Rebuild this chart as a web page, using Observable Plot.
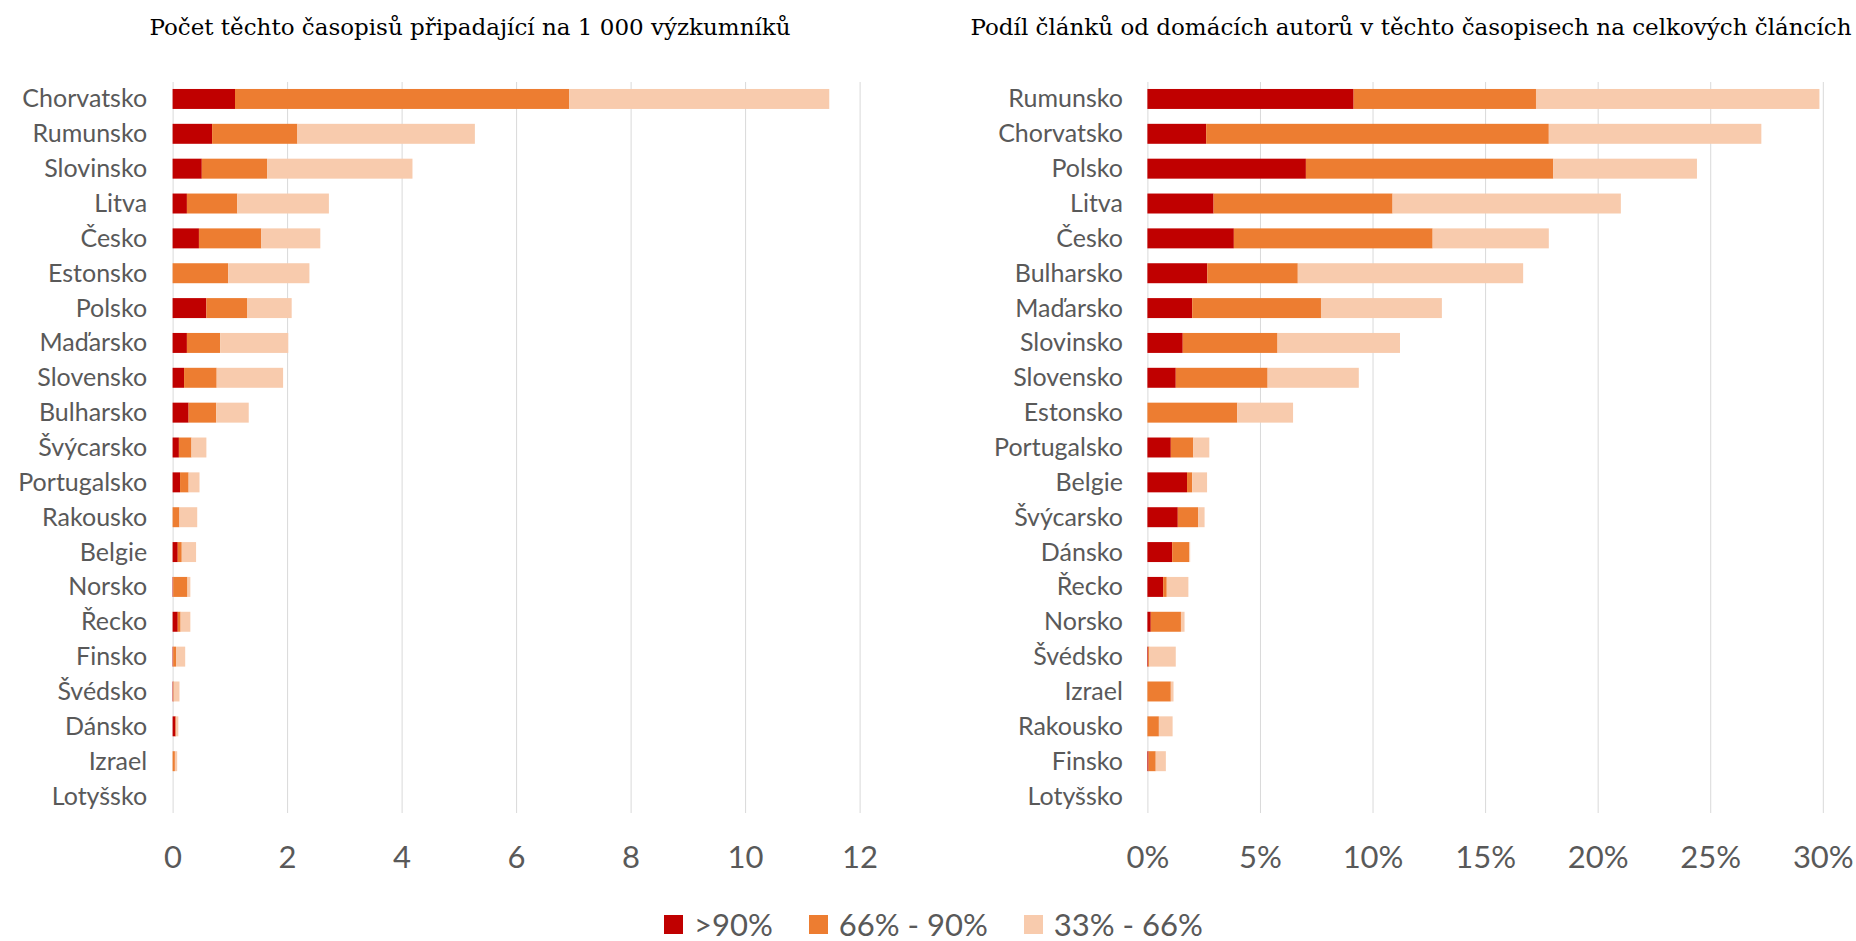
<!DOCTYPE html>
<html>
<head>
<meta charset="utf-8">
<script src="https://cdn.jsdelivr.net/npm/d3@7"></script>
<script src="https://cdn.jsdelivr.net/npm/@observablehq/plot@0.6"></script>
<style>
  html, body { margin: 0; padding: 0; background: #ffffff; }
  body { width: 1856px; height: 941px; position: relative; overflow: hidden; }
  .title { position: absolute; top: 16px; font-family: "DejaVu Serif", serif; font-size: 23px; line-height: 23px; color: #000; white-space: nowrap; transform: translateX(-50%); }
  .panel { position: absolute; top: 60px; }
  #legend { position: absolute; left: 664px; top: 905px; height: 38px; display: flex; align-items: center; font-family: Lato, sans-serif; font-size: 31px; color: #595959; }
  .item { display: flex; align-items: center; margin-right: 36px; }
  .sw { width: 19px; height: 19px; margin-right: 11px; }
</style>
</head>
<body>
<div class="title" id="t1" style="left:470px"></div>
<div class="title" id="t2" style="left:1411px"></div>
<div class="panel" id="p1" style="left:0px"></div>
<div class="panel" id="p2" style="left:928px"></div>
<div id="legend"></div>
<script>
// ---- data ----
const seriesNames = [">90%", "66% - 90%", "33% - 66%"];
const seriesColors = ["#C00000", "#ED7D31", "#F8CBAD"];

const title1 = "Počet těchto časopisů připadající na 1 000 výzkumníků";
const title2 = "Podíl článků od domácích autorů v těchto časopisech na celkových článcích";

// Left panel: journals per 1 000 researchers (segment widths)
const leftCountries = ["Chorvatsko","Rumunsko","Slovinsko","Litva","Česko","Estonsko","Polsko","Maďarsko","Slovensko","Bulharsko","Švýcarsko","Portugalsko","Rakousko","Belgie","Norsko","Řecko","Finsko","Švédsko","Dánsko","Izrael","Lotyšsko"];
const leftOver90 = [1.09,0.69,0.51,0.25,0.46,0,0.59,0.25,0.20,0.28,0.11,0.13,0,0.09,0.01,0.09,0.01,0.01,0.05,0,0];
const left66to90 = [5.84,1.49,1.14,0.88,1.09,0.97,0.71,0.58,0.57,0.48,0.22,0.15,0.12,0.07,0.25,0.05,0.05,0.01,0.01,0.04,0];
const left33to66 = [4.54,3.10,2.54,1.60,1.03,1.42,0.78,1.19,1.16,0.57,0.26,0.19,0.31,0.25,0.05,0.17,0.16,0.10,0.04,0.04,0];
const leftTicks = [0,2,4,6,8,10,12];

// Right panel: share of articles by domestic authors, % (segment widths)
const rightCountries = ["Rumunsko","Chorvatsko","Polsko","Litva","Česko","Bulharsko","Maďarsko","Slovinsko","Slovensko","Estonsko","Portugalsko","Belgie","Švýcarsko","Dánsko","Řecko","Norsko","Švédsko","Izrael","Rakousko","Finsko","Lotyšsko"];
const rightOver90 = [9.16,2.61,7.04,2.94,3.84,2.66,1.99,1.57,1.26,0,1.04,1.76,1.35,1.10,0.70,0.15,0.03,0,0,0.05,0];
const right66to90 = [8.10,15.22,10.99,7.95,8.83,4.02,5.72,4.21,4.08,3.99,1.00,0.23,0.90,0.76,0.16,1.34,0.06,1.04,0.51,0.32,0];
const right33to66 = [12.59,9.44,6.38,10.14,5.16,10.01,5.37,5.44,4.05,2.48,0.71,0.66,0.29,0.04,0.96,0.16,1.17,0.12,0.61,0.45,0];
const rightTicks = [0,5,10,15,20,25,30];

// ---- build ----
function toRows(cats, a, b, c) {
  const rows = [];
  cats.forEach((cat, i) => {
    rows.push({cat, series: seriesNames[0], value: a[i]});
    rows.push({cat, series: seriesNames[1], value: b[i]});
    rows.push({cat, series: seriesNames[2], value: c[i]});
  });
  return rows;
}

function panel(cats, a, b, c, ticks, fmt, mLeft, mRight, labelPad) {
  return Plot.plot({
    width: 928,
    height: 830,
    marginTop: 22,
    marginBottom: 77,
    marginLeft: mLeft,
    marginRight: mRight,
    style: {fontFamily: "Lato, sans-serif", color: "#595959", background: "#ffffff", overflow: "visible"},
    x: {domain: [ticks[0], ticks[ticks.length - 1]], label: null},
    y: {domain: cats, paddingInner: 0.427, paddingOuter: 0.2, round: false, label: null},
    color: {domain: seriesNames, range: seriesColors},
    marks: [
      Plot.gridX(ticks, {stroke: "#d9d9d9", strokeOpacity: 1, strokeWidth: 1}),
      Plot.barX(toRows(cats, a, b, c), {y: "cat", x: "value", fill: "series"}),
      Plot.axisY({tickSize: 0, tickPadding: labelPad, fontSize: 25, label: null}),
      Plot.axisX(ticks, {tickSize: 0, tickPadding: 32, fontSize: 31, tickFormat: fmt, label: null})
    ]
  });
}

document.getElementById("t1").textContent = title1;
document.getElementById("t2").textContent = title2;
document.getElementById("p1").appendChild(panel(leftCountries, leftOver90, left66to90, left33to66, leftTicks, d => String(d), 172.6, 68.4, 26));
document.getElementById("p2").appendChild(panel(rightCountries, rightOver90, right66to90, right33to66, rightTicks, d => d + "%", 219.4, 33.2, 25));

const legend = document.getElementById("legend");
seriesNames.forEach((name, i) => {
  const item = document.createElement("div");
  item.className = "item";
  const sw = document.createElement("div");
  sw.className = "sw";
  sw.style.background = seriesColors[i];
  const label = document.createElement("span");
  label.textContent = name;
  item.appendChild(sw);
  item.appendChild(label);
  legend.appendChild(item);
});
</script>
</body>
</html>
